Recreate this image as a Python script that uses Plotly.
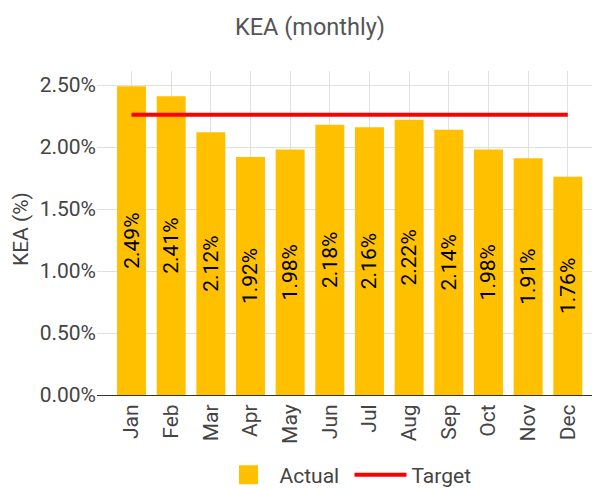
import plotly.graph_objects as go

months = ["Jan", "Feb", "Mar", "Apr", "May", "Jun", "Jul", "Aug", "Sep", "Oct", "Nov", "Dec"]
actual = [2.49, 2.41, 2.12, 1.92, 1.98, 2.18, 2.16, 2.22, 2.14, 1.98, 1.91, 1.76]
target = [2.26] * 12
y_ticks = [0, 0.5, 1.0, 1.5, 2.0, 2.5]
y_ticktext = ["0.00%", "0.50%", "1.00%", "1.50%", "2.00%", "2.50%"]

W, H = 592, 488
ML, MR, MT, MB = 97, 0, 71, 93
PW, PH = W - ML - MR, H - MT - MB
BAR_COLOR = "#FFC000"
FONT = "Roboto"

fig = go.Figure()
fig.add_trace(go.Bar(
    x=months, y=actual, name="Actual", showlegend=False,
    marker=dict(color=BAR_COLOR, line=dict(width=0)),
    width=0.73,
    texttemplate="%{y:.2f}%", textposition="inside", insidetextanchor="middle",
    textangle=-90, textfont=dict(family=FONT, size=21, color="#000000"),
    constraintext="none",
))
# legend entry for the bars (square swatch)
fig.add_trace(go.Scatter(
    x=[None], y=[None], name="Actual", mode="markers",
    marker=dict(symbol="square", size=16, color=BAR_COLOR,
                line=dict(width=3, color=BAR_COLOR)),
))
fig.add_trace(go.Scatter(
    x=months, y=target, name="Target", mode="lines",
    line=dict(color="#FF0000", width=4),
))

fig.update_layout(
    width=W, height=H,
    margin=dict(l=ML, r=MR, t=MT, b=MB, pad=0, autoexpand=False),
    paper_bgcolor="white", plot_bgcolor="white",
    font=dict(family=FONT, size=21, color="#444444"),
    title=dict(text="KEA (monthly)", x=310 / W, xanchor="center", xref="container",
               y=1 - 27 / H, yanchor="middle", yref="container",
               font=dict(family=FONT, size=23.5, color="#555555")),
    showlegend=True,
    legend=dict(orientation="h", x=(217.5 - ML) / PW, xanchor="left",
                y=-(475 - (H - MB)) / PH, yanchor="middle",
                font=dict(family=FONT, size=21, color="#444444"),
                traceorder="normal", itemwidth=52, itemsizing="trace",
                entrywidth=65, entrywidthmode="pixels"),
    uniformtext=dict(minsize=21, mode="show"),
    annotations=[dict(text="KEA (%)", textangle=-90, x=(21 - ML) / PW, xref="paper",
                      y=(H - MB - 229) / PH, yref="paper", showarrow=False,
                      xanchor="center", yanchor="middle",
                      font=dict(family=FONT, size=21, color="#444444"))],
)

fig.update_xaxes(
    type="category", range=[-0.87, 11.61],
    showgrid=True, gridcolor="#e0e0e0", gridwidth=1,
    showline=True, linecolor="#333333", linewidth=1,
    tickangle=-90, ticks="", tickfont=dict(size=21, color="#444444"),
    automargin=False, fixedrange=True,
)
fig.update_yaxes(
    range=[0, 2.613], tickvals=y_ticks, ticktext=y_ticktext,
    showgrid=True, gridcolor="#e0e0e0", gridwidth=1, zeroline=False,
    ticks="", tickfont=dict(size=21, color="#444444"),
    automargin=False, fixedrange=True,
)

fig.write_html("out.html", config={"displayModeBar": False},
               post_script="document.body.style.margin='0';")
